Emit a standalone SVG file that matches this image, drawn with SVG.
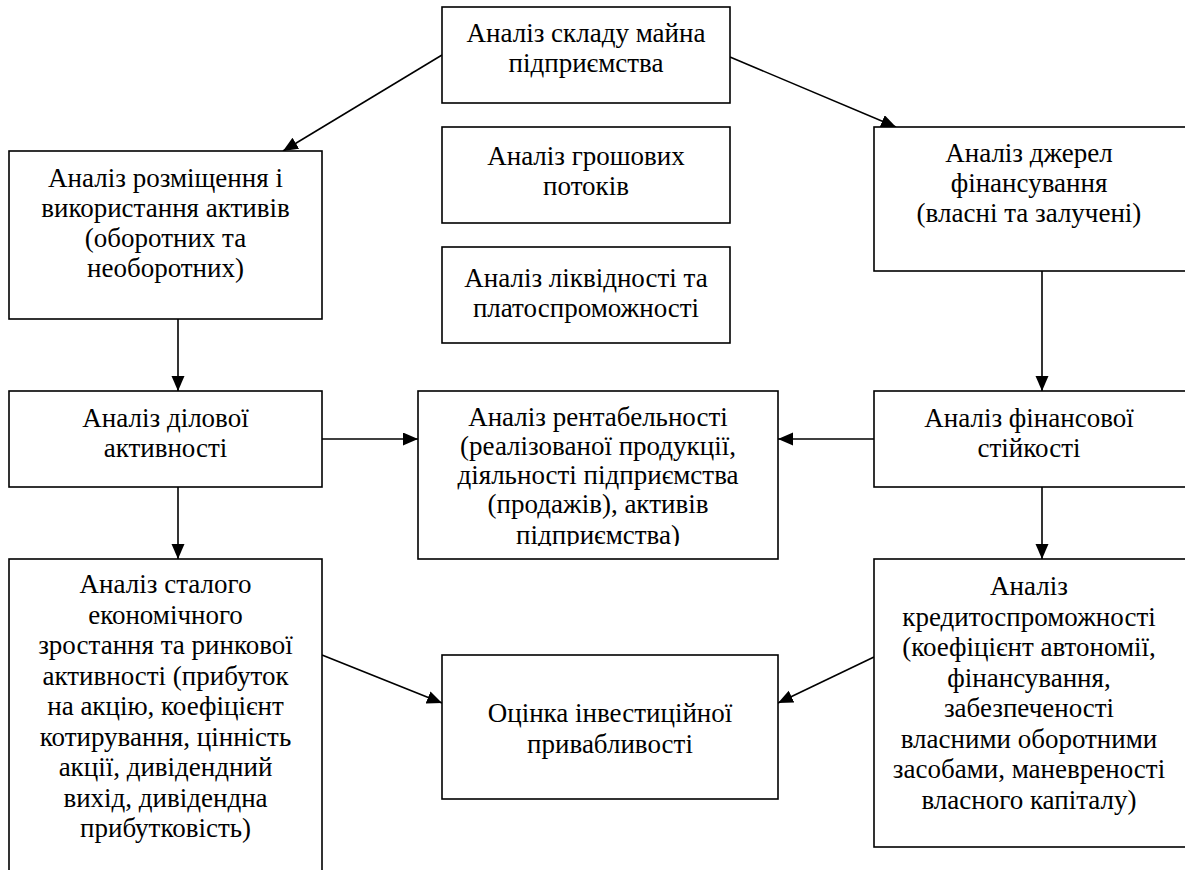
<svg xmlns="http://www.w3.org/2000/svg" width="1185" height="870" viewBox="0 0 1185 870" font-family="'Liberation Serif', 'Times New Roman', Tinos, serif">
<defs>
<marker id="ah" markerUnits="userSpaceOnUse" markerWidth="16" markerHeight="14" refX="15" refY="6.5" orient="auto">
<path d="M0,0 L15,6.5 L0,13 z" fill="#000"/>
</marker>
</defs>
<rect width="1185" height="870" fill="#fff"/>

<g id="connectors" stroke="#000" stroke-width="1.6" fill="none" marker-end="url(#ah)">
<line x1="442" y1="55" x2="283" y2="151"/>
<line x1="730" y1="57" x2="896" y2="127"/>
<line x1="178" y1="319" x2="178" y2="391"/>
<line x1="1042" y1="271" x2="1042" y2="391"/>
<line x1="322" y1="439" x2="418" y2="439"/>
<line x1="874" y1="439" x2="778" y2="439"/>
<line x1="178" y1="487" x2="178" y2="559"/>
<line x1="1042" y1="487" x2="1042" y2="559"/>
<line x1="322" y1="655" x2="442" y2="703"/>
<line x1="874" y1="657" x2="778" y2="703"/>
</g>

<g id="n-top">
<rect x="442" y="7" width="288" height="96" fill="#fff" stroke="#000" stroke-width="1.6"/>
<text style="font-family:'Times New Roman','Liberation Serif',serif;font-size:27px" text-anchor="middle" x="586" y="42">Аналіз складу майна</text>
<text style="font-family:'Times New Roman','Liberation Serif',serif;font-size:27px" text-anchor="middle" x="586" y="72">підприємства</text>
</g>

<g id="n-cash">
<rect x="442" y="127" width="288" height="96" fill="#fff" stroke="#000" stroke-width="1.6"/>
<text style="font-family:'Times New Roman','Liberation Serif',serif;font-size:27px" text-anchor="middle" x="586" y="165">Аналіз грошових</text>
<text style="font-family:'Times New Roman','Liberation Serif',serif;font-size:27px" text-anchor="middle" x="586" y="195">потоків</text>
</g>

<g id="n-liquid">
<rect x="442" y="247" width="288" height="96" fill="#fff" stroke="#000" stroke-width="1.6"/>
<text style="font-family:'Times New Roman','Liberation Serif',serif;font-size:27px" text-anchor="middle" x="586" y="287">Аналіз ліквідності та</text>
<text style="font-family:'Times New Roman','Liberation Serif',serif;font-size:27px" text-anchor="middle" x="586" y="317">платоспроможності</text>
</g>

<g id="n-assets">
<rect x="9" y="151" width="313" height="168" fill="#fff" stroke="#000" stroke-width="1.6"/>
<text style="font-family:'Times New Roman','Liberation Serif',serif;font-size:27px" text-anchor="middle" x="165.5" y="187">Аналіз розміщення і</text>
<text style="font-family:'Times New Roman','Liberation Serif',serif;font-size:27px" text-anchor="middle" x="165.5" y="217">використання активів</text>
<text style="font-family:'Times New Roman','Liberation Serif',serif;font-size:27px" text-anchor="middle" x="165.5" y="247">(оборотних та</text>
<text style="font-family:'Times New Roman','Liberation Serif',serif;font-size:27px" text-anchor="middle" x="165.5" y="277">необоротних)</text>
</g>

<g id="n-sources">
<rect x="874" y="127" width="313" height="144" fill="#fff" stroke="#000" stroke-width="1.6"/>
<text style="font-family:'Times New Roman','Liberation Serif',serif;font-size:27px" text-anchor="middle" x="1029" y="162">Аналіз джерел</text>
<text style="font-family:'Times New Roman','Liberation Serif',serif;font-size:27px" text-anchor="middle" x="1029" y="192">фінансування</text>
<text style="font-family:'Times New Roman','Liberation Serif',serif;font-size:27px" text-anchor="middle" x="1029" y="222">(власні та залучені)</text>
</g>

<g id="n-business">
<rect x="9" y="391" width="313" height="96" fill="#fff" stroke="#000" stroke-width="1.6"/>
<text style="font-family:'Times New Roman','Liberation Serif',serif;font-size:27px" text-anchor="middle" x="165.5" y="427">Аналіз ділової</text>
<text style="font-family:'Times New Roman','Liberation Serif',serif;font-size:27px" text-anchor="middle" x="165.5" y="457">активності</text>
</g>

<g id="n-stability">
<rect x="874" y="391" width="313" height="96" fill="#fff" stroke="#000" stroke-width="1.6"/>
<text style="font-family:'Times New Roman','Liberation Serif',serif;font-size:27px" text-anchor="middle" x="1029" y="427">Аналіз фінансової</text>
<text style="font-family:'Times New Roman','Liberation Serif',serif;font-size:27px" text-anchor="middle" x="1029" y="457">стійкості</text>
</g>

<g id="n-profit">
<rect x="418" y="391" width="360" height="168" fill="#fff" stroke="#000" stroke-width="1.6"/>
<text style="font-family:'Times New Roman','Liberation Serif',serif;font-size:27px" text-anchor="middle" x="598" y="426">Аналіз рентабельності</text>
<text style="font-family:'Times New Roman','Liberation Serif',serif;font-size:27px" text-anchor="middle" x="598" y="455">(реалізованої продукції,</text>
<text style="font-family:'Times New Roman','Liberation Serif',serif;font-size:27px" text-anchor="middle" x="598" y="484">діяльності підприємства</text>
<text style="font-family:'Times New Roman','Liberation Serif',serif;font-size:27px" text-anchor="middle" x="598" y="513">(продажів), активів</text>
<text style="font-family:'Times New Roman','Liberation Serif',serif;font-size:27px" text-anchor="middle" x="598" y="544">підприємства)</text>
<rect x="419.5" y="546" width="357" height="11.5" fill="#fff"/>
</g>

<g id="n-growth">
<rect x="9" y="559" width="313" height="330" fill="#fff" stroke="#000" stroke-width="1.6"/>
<text style="font-family:'Times New Roman','Liberation Serif',serif;font-size:27px" text-anchor="middle" x="165.5" y="593">Аналіз сталого</text>
<text style="font-family:'Times New Roman','Liberation Serif',serif;font-size:27px" text-anchor="middle" x="165.5" y="623.5">економічного</text>
<text style="font-family:'Times New Roman','Liberation Serif',serif;font-size:27px" text-anchor="middle" x="165.5" y="654">зростання та ринкової</text>
<text style="font-family:'Times New Roman','Liberation Serif',serif;font-size:27px" text-anchor="middle" x="165.5" y="684.5">активності (прибуток</text>
<text style="font-family:'Times New Roman','Liberation Serif',serif;font-size:27px" text-anchor="middle" x="165.5" y="715">на акцію, коефіцієнт</text>
<text style="font-family:'Times New Roman','Liberation Serif',serif;font-size:27px" text-anchor="middle" x="165.5" y="745.5">котирування, цінність</text>
<text style="font-family:'Times New Roman','Liberation Serif',serif;font-size:27px" text-anchor="middle" x="165.5" y="776">акції, дивідендний</text>
<text style="font-family:'Times New Roman','Liberation Serif',serif;font-size:27px" text-anchor="middle" x="165.5" y="806.5">вихід, дивідендна</text>
<text style="font-family:'Times New Roman','Liberation Serif',serif;font-size:27px" text-anchor="middle" x="165.5" y="837">прибутковість)</text>
</g>

<g id="n-credit">
<rect x="874" y="559" width="313" height="288" fill="#fff" stroke="#000" stroke-width="1.6"/>
<text style="font-family:'Times New Roman','Liberation Serif',serif;font-size:27px" text-anchor="middle" x="1029" y="595">Аналіз</text>
<text style="font-family:'Times New Roman','Liberation Serif',serif;font-size:27px" text-anchor="middle" x="1029" y="625.5">кредитоспроможності</text>
<text style="font-family:'Times New Roman','Liberation Serif',serif;font-size:27px" text-anchor="middle" x="1029" y="656">(коефіцієнт автономії,</text>
<text style="font-family:'Times New Roman','Liberation Serif',serif;font-size:27px" text-anchor="middle" x="1029" y="686.5">фінансування,</text>
<text style="font-family:'Times New Roman','Liberation Serif',serif;font-size:27px" text-anchor="middle" x="1029" y="717">забезпеченості</text>
<text style="font-family:'Times New Roman','Liberation Serif',serif;font-size:27px" text-anchor="middle" x="1029" y="747.5">власними оборотними</text>
<text style="font-family:'Times New Roman','Liberation Serif',serif;font-size:27px" text-anchor="middle" x="1029" y="778">засобами, маневреності</text>
<text style="font-family:'Times New Roman','Liberation Serif',serif;font-size:27px" text-anchor="middle" x="1029" y="808.5">власного капіталу)</text>
</g>

<g id="n-invest">
<rect x="442" y="655" width="336" height="144" fill="#fff" stroke="#000" stroke-width="1.6"/>
<text style="font-family:'Times New Roman','Liberation Serif',serif;font-size:27px" text-anchor="middle" x="610" y="722">Оцінка інвестиційної</text>
<text style="font-family:'Times New Roman','Liberation Serif',serif;font-size:27px" text-anchor="middle" x="610" y="753">привабливості</text>
</g>
</svg>
